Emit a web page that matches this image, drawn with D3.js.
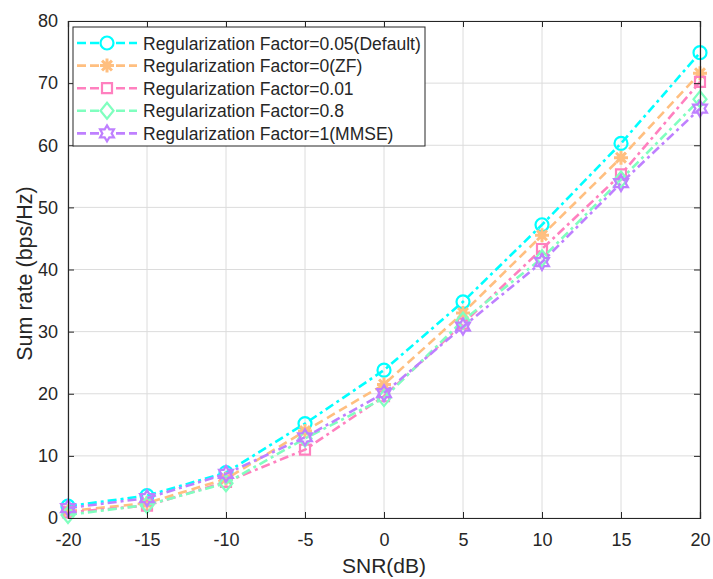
<!DOCTYPE html>
<html>
<head>
<meta charset="utf-8">
<script src="https://cdn.jsdelivr.net/npm/d3@7"></script>
<style>
  body { margin: 0; background: #fff; }
  svg { font-family: 'Liberation Sans', Arial, sans-serif; }
  .grid line { stroke: #dcdcdc; stroke-width: 1; }
</style>
</head>
<body>
<svg width="713" height="579"></svg>
<script>
// SNR values (dB) on x
const snr = [-20, -15, -10, -5, 0, 5, 10, 15, 20];

// sum rate (bps/Hz) per regularization factor
const rateDefault = [1.9, 3.6, 7.3, 15.2, 23.8, 34.8, 47.2, 60.3, 74.9];
const rateZF      = [1.1, 2.4, 6.3, 14.0, 21.5, 33.0, 45.5, 58.0, 71.6];
const rate001     = [0.9, 2.0, 5.8, 11.0, 19.6, 31.3, 43.3, 55.3, 70.2];
const rate08      = [0.5, 2.1, 5.6, 12.8, 19.3, 31.8, 41.8, 54.5, 67.4];
const rateMMSE    = [1.6, 3.2, 7.1, 13.0, 20.1, 30.8, 41.2, 53.9, 65.9];

const labels = [
  'Regularization Factor=0.05(Default)',
  'Regularization Factor=0(ZF)',
  'Regularization Factor=0.01',
  'Regularization Factor=0.8',
  'Regularization Factor=1(MMSE)'
];
const colors = ['#00ffff', '#ffbf80', '#ff80bf', '#80ffbf', '#bf80ff'];
const markers = ['circle', 'asterisk', 'square', 'diamond', 'hexagram'];
const dashes = ['9,4,3,4', '9,5', '9,4,3,4', '9,4,3,4', '9,4,3,4'];

const xTicks = [-20, -15, -10, -5, 0, 5, 10, 15, 20];
const yTicks = [0, 10, 20, 30, 40, 50, 60, 70, 80];

const series = [rateDefault, rateZF, rate001, rate08, rateMMSE].map((v, i) => ({
  name: labels[i], color: colors[i], marker: markers[i], dash: dashes[i], values: v
}));

const margin = { top: 21, right: 13, bottom: 61, left: 68 };
const svg = d3.select('svg');
const width = +svg.attr('width') - margin.left - margin.right;
const height = +svg.attr('height') - margin.top - margin.bottom;

const g = svg.append('g').attr('transform', `translate(${margin.left},${margin.top})`);

const x = d3.scaleLinear().domain([-20, 20]).range([0, width]);
const y = d3.scaleLinear().domain([0, 80]).range([height, 0]);

// grid
g.append('g').attr('class', 'grid')
  .selectAll('line.v').data(xTicks).enter().append('line')
  .attr('x1', d => x(d)).attr('x2', d => x(d)).attr('y1', 0).attr('y2', height);
g.append('g').attr('class', 'grid')
  .selectAll('line.h').data(yTicks).enter().append('line')
  .attr('y1', d => y(d)).attr('y2', d => y(d)).attr('x1', 0).attr('x2', width);

// marker paths, centred on 0,0
function markerPath(type) {
  const p = d3.path();
  if (type === 'circle') {
    p.arc(0, 0, 6.5, 0, 2 * Math.PI);
  } else if (type === 'square') {
    p.rect(-5, -5, 10, 10);
  } else if (type === 'diamond') {
    p.moveTo(0, -8); p.lineTo(6.5, 0); p.lineTo(0, 8); p.lineTo(-6.5, 0); p.closePath();
  } else if (type === 'asterisk') {
    for (let k = 0; k < 4; k++) {
      const a = k * Math.PI / 4;
      p.moveTo(-7 * Math.cos(a), -7 * Math.sin(a));
      p.lineTo(7 * Math.cos(a), 7 * Math.sin(a));
    }
  } else if (type === 'hexagram') {
    const ro = 8, ri = ro / Math.sqrt(3);
    for (let k = 0; k < 12; k++) {
      const a = -Math.PI / 2 + k * Math.PI / 6;
      const r = k % 2 === 0 ? ro : ri;
      if (k === 0) p.moveTo(r * Math.cos(a), r * Math.sin(a));
      else p.lineTo(r * Math.cos(a), r * Math.sin(a));
    }
    p.closePath();
  }
  return p.toString();
}

const line = d3.line().x((d, i) => x(snr[i])).y(d => y(d));

const plot = g.append('g').attr('class', 'series');
series.forEach(s => {
  plot.append('path')
    .attr('d', line(s.values))
    .attr('fill', 'none')
    .attr('stroke', s.color)
    .attr('stroke-width', 2.6)
    .attr('stroke-dasharray', s.dash);
  plot.selectAll(null).data(s.values).enter().append('path')
    .attr('transform', (d, i) => `translate(${x(snr[i])},${y(d)})`)
    .attr('d', markerPath(s.marker))
    .attr('fill', s.marker === 'asterisk' ? s.color : 'none')
    .attr('stroke', s.color)
    .attr('stroke-width', s.marker === 'asterisk' ? 3 : 2.2);
});

// axes (box with inward ticks)
const tick = 6;
const fmt = d => String(d); // plain hyphen minus like the original
g.append('g').attr('class', 'axis x').attr('transform', `translate(0,${height})`)
  .call(d3.axisBottom(x).tickValues(xTicks).tickSize(-tick).tickPadding(15).tickFormat(fmt));
g.append('g').attr('class', 'axis x2')
  .call(d3.axisTop(x).tickValues(xTicks).tickSize(-tick).tickFormat(''));
g.append('g').attr('class', 'axis y')
  .call(d3.axisLeft(y).tickValues(yTicks).tickSize(-tick).tickPadding(10).tickFormat(fmt));
g.append('g').attr('class', 'axis y2').attr('transform', `translate(${width},0)`)
  .call(d3.axisRight(y).tickValues(yTicks).tickSize(-tick).tickFormat(''));

g.selectAll('.axis path.domain').attr('stroke', '#262626').attr('stroke-width', 1.2);
g.selectAll('.axis .tick line').attr('stroke', '#262626').attr('stroke-width', 1);
g.selectAll('.x .tick:first-child line, .x .tick:last-child line').remove();
g.selectAll('.axis text').attr('fill', '#262626').style('font-size', '18px')
  .attr('font-family', 'Liberation Sans, Arial, sans-serif');

// axis titles
svg.append('text')
  .attr('x', margin.left + width / 2).attr('y', 573)
  .attr('text-anchor', 'middle').attr('fill', '#262626').style('font-size', '21px')
  .text('SNR(dB)');
svg.append('text')
  .attr('transform', `translate(32,${margin.top + height / 2 + 4}) rotate(-90)`)
  .attr('text-anchor', 'middle').attr('fill', '#262626').style('font-size', '21.5px')
  .text('Sum rate (bps/Hz)');

// legend
const leg = svg.append('g').attr('transform', 'translate(73,27)');
leg.append('rect')
  .attr('width', 352).attr('height', 119)
  .attr('fill', '#fff').attr('stroke', '#262626').attr('stroke-width', 1);
series.forEach((s, i) => {
  const ly = 16 + i * 22.6;
  const row = leg.append('g').attr('transform', `translate(0,${ly})`);
  row.append('line')
    .attr('x1', 4).attr('x2', 64).attr('y1', 0).attr('y2', 0)
    .attr('stroke', s.color).attr('stroke-width', 2.6).attr('stroke-dasharray', '9,4');
  row.append('path')
    .attr('transform', 'translate(34,0)')
    .attr('d', markerPath(s.marker))
    .attr('fill', s.marker === 'asterisk' ? s.color : '#fff')
    .attr('stroke', s.color)
    .attr('stroke-width', s.marker === 'asterisk' ? 3 : 2.2);
  row.append('text')
    .attr('x', 70).attr('y', 6.5)
    .attr('fill', '#262626').style('font-size', '17.5px')
    .text(s.name);
});
</script>
</body>
</html>
